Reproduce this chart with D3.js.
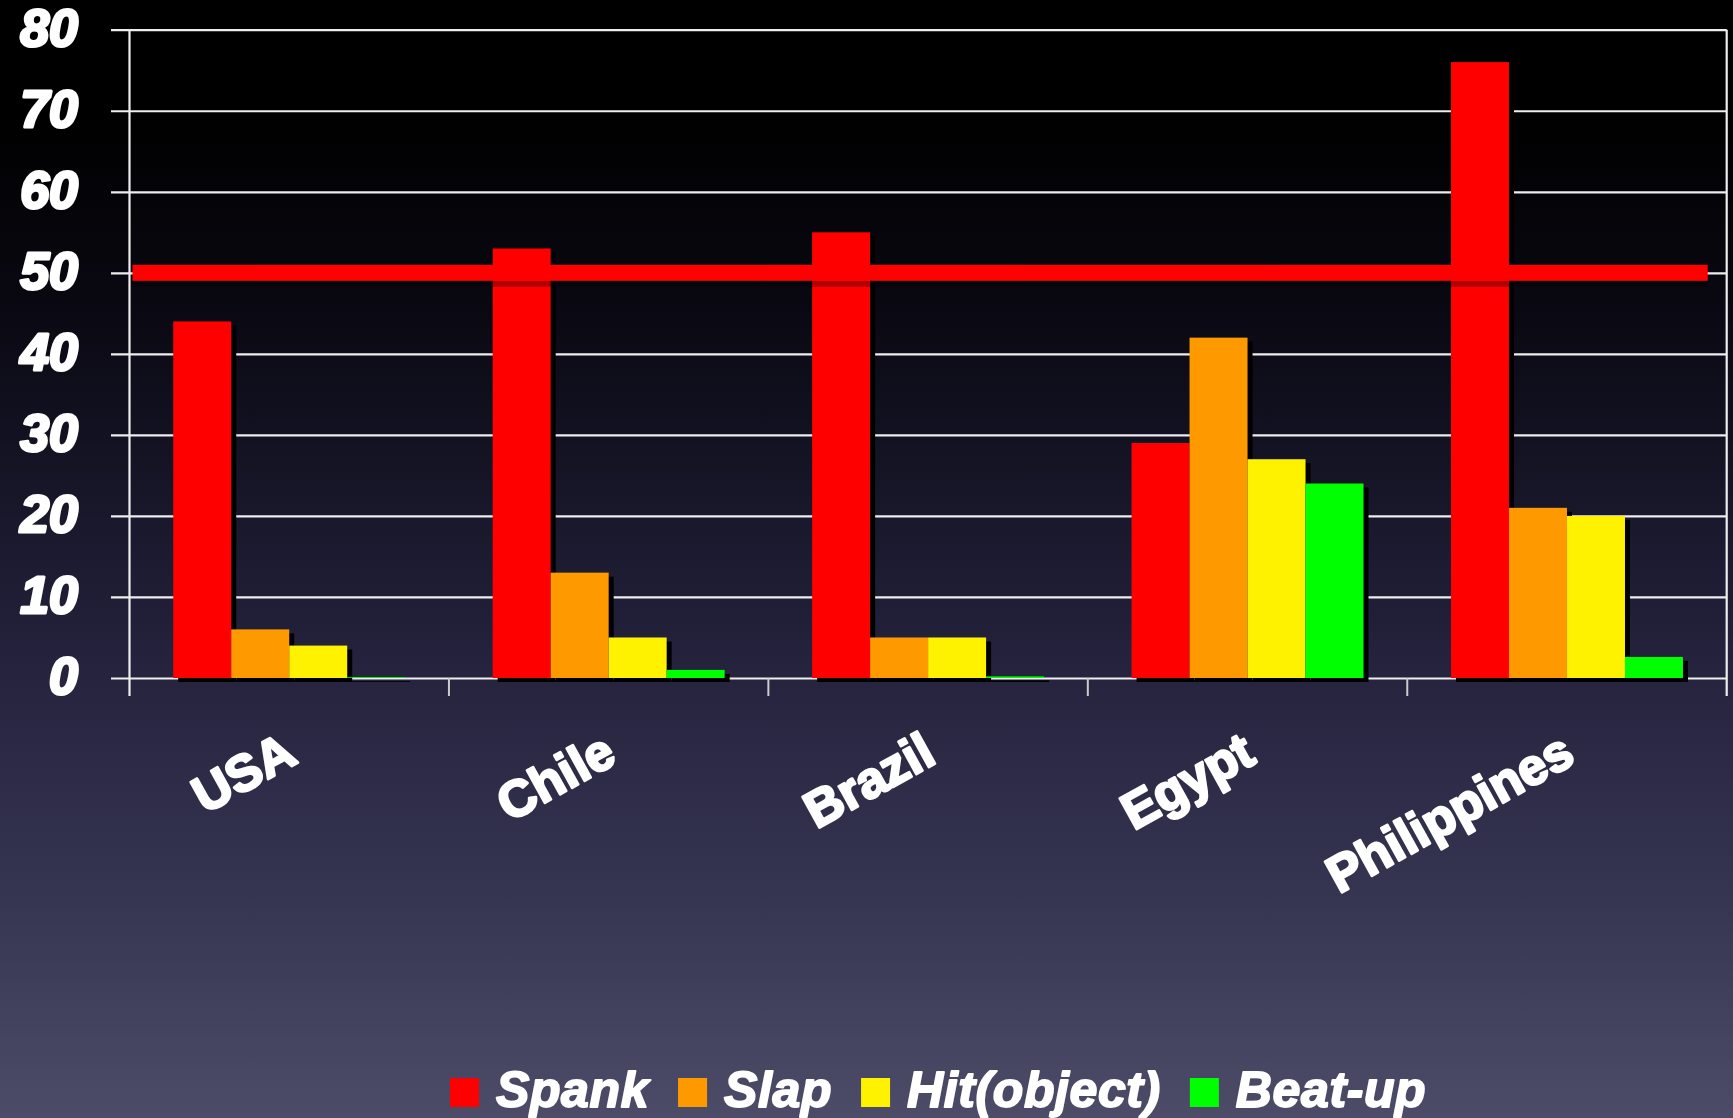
<!DOCTYPE html>
<html>
<head>
<meta charset="utf-8">
<script src="https://cdn.jsdelivr.net/npm/d3@7"></script>
<style>
  html, body { margin: 0; padding: 0; background: #000; overflow: hidden; }
  svg { display: block; }
  text { font-family: "Liberation Sans", Arial, sans-serif; }
</style>
</head>
<body>
<svg id="chart" width="1733" height="1118"></svg>
<script>
// ---- data ----
const categories = ["USA", "Chile", "Brazil", "Egypt", "Philippines"];
const series = ["Spank", "Slap", "Hit(object)", "Beat-up"];
const spank = [44, 53, 55, 29, 76];
const slap = [6, 13, 5, 42, 21];
const hitObject = [4, 5, 5, 27, 20];
const beatUp = [0.1, 1, 0.2, 24, 2.6];
const yTicks = [0, 10, 20, 30, 40, 50, 60, 70, 80];
const referenceLine = 50;
const colors = ["#ff0000", "#ff9900", "#fff200", "#00ff00"];

const seriesValues = [spank, slap, hitObject, beatUp];

// ---- layout ----
const W = 1733, H = 1118;
const pLeft = 129.5, pRight = 1726.7, pTop = 29.7, pBottom = 678;
const svg = d3.select("#chart");

const defs = svg.append("defs");
const grad = defs.append("linearGradient").attr("id", "bg").attr("x1", 0).attr("y1", 0).attr("x2", 0).attr("y2", 1);
[[0, "#000000"], [0.1, "#000000"], [0.3, "#0b0a15"], [0.6, "#25233e"], [0.8, "#363551"], [1, "#4c4c69"]]
  .forEach(([o, c]) => grad.append("stop").attr("offset", o).attr("stop-color", c));
svg.append("rect").attr("width", W).attr("height", H).attr("fill", "url(#bg)");

const y = d3.scaleLinear().domain([0, 80]).range([pBottom, pTop]);
const x0 = d3.scaleBand().domain(categories).range([pLeft, pRight]).padding(0);
const x1 = d3.scaleBand().domain(series).range([0, x0.bandwidth()]).paddingInner(0).paddingOuter(0.754);

// gridlines + y labels
const yAxis = d3.axisLeft(y).tickValues(yTicks).tickSize(pRight - 111).tickPadding(33).tickFormat(d3.format("d"));
const gy = svg.append("g").attr("transform", `translate(${pRight},0)`).call(yAxis);
gy.select(".domain").remove();
gy.selectAll(".tick line").attr("stroke", "#eeeeee").attr("stroke-width", 2.2);
gy.selectAll(".tick text")
  .attr("fill", "#ffffff").attr("stroke", "#ffffff").attr("stroke-width", 3).attr("stroke-linejoin", "round")
  .attr("font-size", 52).attr("font-weight", "bold").attr("font-style", "italic")
  .attr("dy", "0.3em").attr("font-family", "Liberation Sans, Arial, sans-serif");

// frame lines
svg.append("line").attr("x1", pLeft).attr("x2", pLeft).attr("y1", pTop).attr("y2", pBottom + 18)
  .attr("stroke", "#eeeeee").attr("stroke-width", 2.2);
svg.append("line").attr("x1", pRight).attr("x2", pRight).attr("y1", pTop).attr("y2", pBottom + 18)
  .attr("stroke", "#eeeeee").attr("stroke-width", 2.2);

// x-axis ticks at category boundaries
const bounds = categories.map(c => x0(c)).concat([pRight]);
svg.append("g").selectAll("line").data(bounds.slice(1, -1)).join("line")
  .attr("x1", d => d).attr("x2", d => d).attr("y1", pBottom).attr("y2", pBottom + 18)
  .attr("stroke", "#cccccc").attr("stroke-width", 2);

// bars
const barData = [];
categories.forEach((c, i) => {
  series.forEach((s, j) => barData.push({ c, s, j, v: seriesValues[j][i] }));
});
const gShadow = svg.append("g");
gShadow.selectAll("rect").data(barData).join("rect")
  .attr("x", d => x0(d.c) + x1(d.s) + 5)
  .attr("y", d => y(d.v) + 4)
  .attr("width", x1.bandwidth())
  .attr("height", d => pBottom - y(d.v))
  .attr("fill", "#000");
const gBars = svg.append("g");
gBars.selectAll("rect").data(barData).join("rect")
  .attr("x", d => x0(d.c) + x1(d.s))
  .attr("y", d => y(d.v))
  .attr("width", x1.bandwidth())
  .attr("height", d => pBottom - y(d.v))
  .attr("fill", d => colors[d.j]);

// reference line at 50
svg.append("rect").attr("x", pLeft + 3).attr("width", 1707.7 - pLeft - 3)
  .attr("y", y(referenceLine) + 8).attr("height", 6).attr("fill", "#000").attr("opacity", 0.3);
svg.append("rect").attr("x", pLeft + 3).attr("width", 1707.7 - pLeft - 3)
  .attr("y", y(referenceLine) - 8).attr("height", 16).attr("fill", "#ff0000");

// category labels
svg.append("g").selectAll("text").data(categories).join("text")
  .attr("transform", d => `translate(${x0(d) + x0.bandwidth() / 2 + 10},762) rotate(-29)`)
  .attr("text-anchor", "end")
  .attr("fill", "#fff").attr("stroke", "#fff").attr("stroke-width", 2.6).attr("stroke-linejoin", "round")
  .attr("font-size", 51).attr("font-weight", "bold")
  .text(d => d);

// legend
const lg = svg.append("g");
let lx = 450;
series.forEach((s, j) => {
  lg.append("rect").attr("x", lx).attr("y", 1078).attr("width", 29).attr("height", 29).attr("fill", colors[j]);
  const t = lg.append("text").attr("x", lx + 29 + 17).attr("y", 1107)
    .attr("fill", "#fff").attr("stroke", "#fff").attr("stroke-width", 1.8).attr("stroke-linejoin", "round")
    .attr("font-size", 50).attr("font-weight", "bold").attr("font-style", "italic")
    .attr("letter-spacing", 0.6)
    .text(s);
  const w = t.node().getComputedTextLength();
  lx = lx + 29 + 17 + w + 29;
});
</script>
</body>
</html>
